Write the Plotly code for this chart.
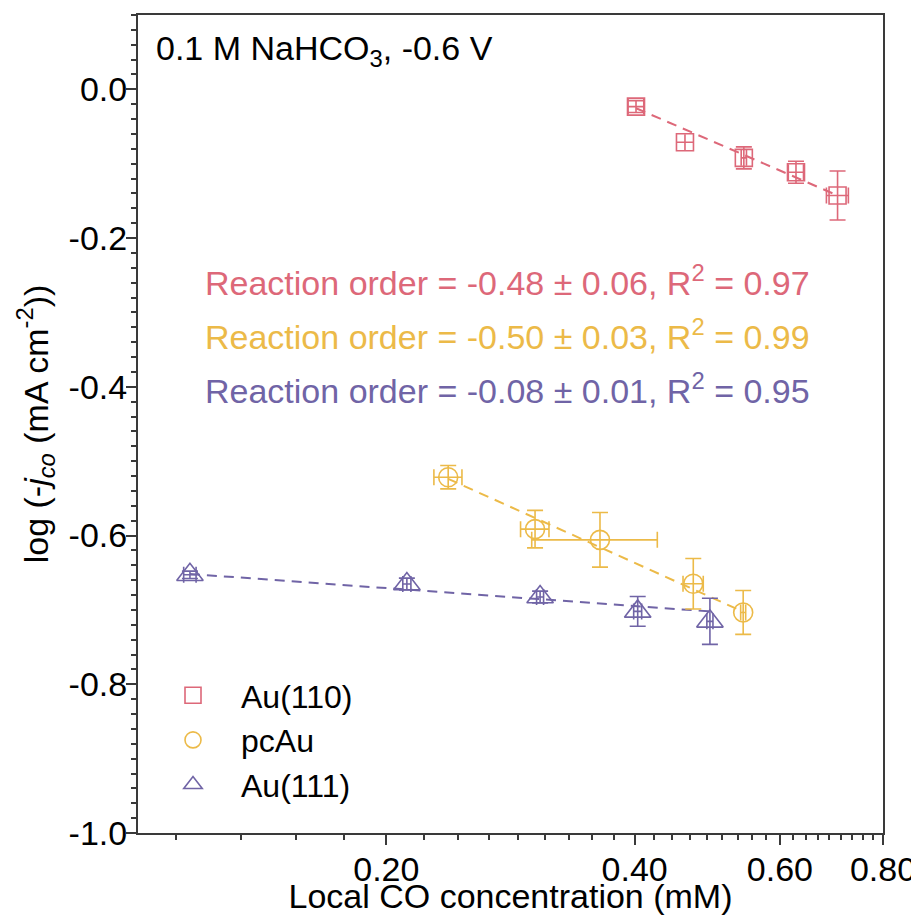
import numpy as np
import plotly.graph_objects as go

# ---------------- data ----------------
series_names = ["Au(110)", "pcAu", "Au(111)"]
series_colors = ["#DD6879", "#ECBA48", "#7064A6"]
series_symbols = ["square-open", "circle-open", "triangle-up-open"]
series_sizes = [17, 19, 23]

au110_x = [0.4015, 0.4603, 0.5425, 0.6275, 0.7047]
au110_y = [-0.0232, -0.0711, -0.0921, -0.1114, -0.1427]
au110_xerr = [0.0088, 0.0, 0.004, 0.0133, 0.0216]
au110_yerr = [0.008, 0.0, 0.0148, 0.0148, 0.033]

pcau_x = [0.2377, 0.3029, 0.3631, 0.4711, 0.5415]
pcau_y = [-0.5216, -0.5914, -0.6058, -0.6648, -0.7034]
pcau_xerr = [0.0093, 0.012, 0.063, 0.0133, 0.0038]
pcau_yerr = [0.0157, 0.0252, 0.0367, 0.034, 0.0295]

au111_x = [0.1156, 0.2118, 0.3072, 0.4034, 0.4935]
au111_y = [-0.6528, -0.6652, -0.6827, -0.7020, -0.7154]
au111_xerr = [0.002, 0.0024, 0.003, 0.0045, 0.0042]
au111_yerr = [0.005, 0.008, 0.008, 0.020, 0.031]

reaction_order = [-0.48, -0.50, -0.08]
order_err = [0.06, 0.03, 0.01]
r_squared = [0.97, 0.99, 0.95]
fit_intercept = [-0.2156, -0.8357, -0.7266]

x_tick_vals = [0.2, 0.4, 0.6, 0.8]
x_tick_text = ["0.20", "0.40", "0.60", "0.80"]
y_tick_vals = [-1.0, -0.8, -0.6, -0.4, -0.2, 0.0]
y_tick_text = ["-1.0", "-0.8", "-0.6", "-0.4", "-0.2", "0.0"]

condition_label = "0.1 M NaHCO<sub>3</sub>, -0.6 V"
x_title = "Local CO concentration (mM)"
y_title = "log (-<i>j</i><sub><i>co</i></sub> (mA cm<sup>-2</sup>))"

# ---------------- figure ----------------
FONT = "Liberation Sans, Arial, sans-serif"
FS = 34
AXIS_COLOR = "#3a3a3a"

series = [
    (au110_x, au110_y, au110_xerr, au110_yerr),
    (pcau_x, pcau_y, pcau_xerr, pcau_yerr),
    (au111_x, au111_y, au111_xerr, au111_yerr),
]

fig = go.Figure()

# fitted dashed lines (log-linear fit: y = b + order * log10(x))
for (xs, ys, xe, ye), order, b, col in zip(series, reaction_order, fit_intercept, series_colors):
    x_fit = np.array([min(xs), max(xs)])
    y_fit = b + order * np.log10(x_fit)
    fig.add_trace(go.Scatter(
        x=x_fit, y=y_fit, mode="lines", showlegend=False, hoverinfo="skip",
        line=dict(color=col, width=2, dash="10px,7px"),
    ))

for (xs, ys, xe, ye), name, col, sym, sz in zip(series, series_names, series_colors,
                                                  series_symbols, series_sizes):
    fig.add_trace(go.Scatter(
        x=xs, y=ys, mode="markers", name=name,
        marker=dict(symbol=sym, size=sz, color=col, line=dict(color=col, width=1.6)),
        error_x=dict(type="data", array=xe, visible=True, color=col, thickness=1.6, width=8),
        error_y=dict(type="data", array=ye, visible=True, color=col, thickness=1.6, width=8),
    ))

# annotations
fig.add_annotation(
    text=condition_label, xref="paper", yref="paper", x=0.0215, y=0.957,
    xanchor="left", yanchor="middle", showarrow=False,
    font=dict(family=FONT, size=FS, color="black"),
)
ann_y = [0.676, 0.610, 0.544]
for order, err, r2, col, yy in zip(reaction_order, order_err, r_squared, series_colors, ann_y):
    fig.add_annotation(
        text=f"Reaction order = {order:.2f} \u00b1 {err:.2f}, R<sup>2</sup> = {r2:.2f}",
        xref="paper", yref="paper", x=0.0872, y=yy, xanchor="left", yanchor="middle",
        showarrow=False, font=dict(family=FONT, size=FS, color=col),
    )

minor_x = [0.2 + k * 0.2 / 9 for k in range(-4, 28) if k % 9 != 0]

fig.update_layout(
    width=911, height=907,
    margin=dict(l=130, r=36, t=7, b=82, autoexpand=False),
    paper_bgcolor="white", plot_bgcolor="white",
    font=dict(family=FONT, size=FS, color="black"),
    showlegend=True,
    legend=dict(
        x=0.0094, y=0.2017, xanchor="left", yanchor="top",
        bgcolor="rgba(0,0,0,0)", font=dict(family=FONT, size=32, color="black"),
        itemwidth=86, tracegroupgap=0,
    ),
    xaxis=dict(
        type="log", range=[np.log10(0.1), np.log10(0.8)], automargin=False,
        tickmode="array", tickvals=x_tick_vals, ticktext=x_tick_text,
        ticks="outside", ticklen=10, tickwidth=2, tickcolor=AXIS_COLOR,
        ticklabelstandoff=-5,
        minor=dict(tickmode="array", tickvals=minor_x, ticks="outside", ticklen=5,
                   tickwidth=2, tickcolor=AXIS_COLOR),
        showline=True, linewidth=2, linecolor=AXIS_COLOR, mirror=True,
        showgrid=False, zeroline=False,
        title=dict(text=x_title, standoff=0, font=dict(family=FONT, size=FS)),
        tickfont=dict(family=FONT, size=FS, color="black"),
    ),
    yaxis=dict(
        range=[-1.0, 0.1], automargin=False,
        tickmode="array", tickvals=y_tick_vals, ticktext=y_tick_text,
        ticks="outside", ticklen=10, tickwidth=2, tickcolor=AXIS_COLOR,
        ticklabelstandoff=-8,
        minor=dict(dtick=0.02, tick0=0, ticks="outside", ticklen=5,
                   tickwidth=2, tickcolor=AXIS_COLOR),
        showline=True, linewidth=2, linecolor=AXIS_COLOR, mirror=True,
        showgrid=False, zeroline=False,
        title=dict(text=y_title, standoff=10, font=dict(family=FONT, size=FS)),
        tickfont=dict(family=FONT, size=FS, color="black"),
    ),
)

fig.write_html("out.html")
